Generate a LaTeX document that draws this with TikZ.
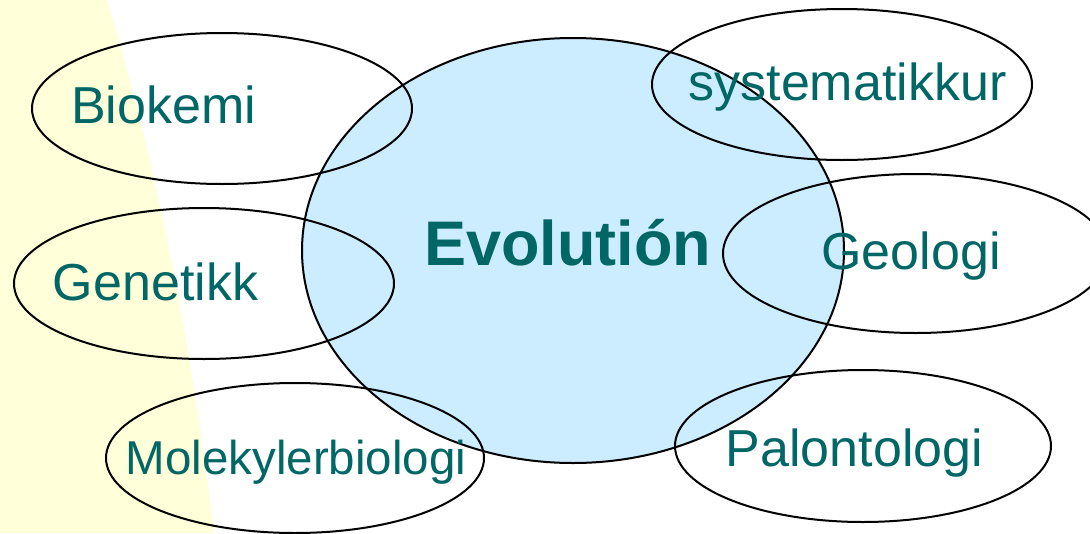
\documentclass[tikz,border=0pt]{standalone}
\usepackage{fontspec}
\setmainfont{Liberation Sans}
\usetikzlibrary{shapes.geometric}
\definecolor{teal}{RGB}{0,102,102}
\definecolor{paleyellow}{RGB}{255,255,217}
\definecolor{evoblue}{RGB}{204,236,255}
\tikzset{
  field/.style={ellipse, draw=black, line width=2pt, inner sep=0pt},
  lbl/.style={anchor=base, inner sep=0pt, text=teal, font=\fontsize{52}{60}\selectfont},
}
\begin{document}
\begin{tikzpicture}[x=1pt, y=-1pt]
\useasboundingbox (0,0) rectangle (1090,533);
\fill[paleyellow] (0,0) -- (107,0) .. controls (161,180) and (192,353) .. (214,533) -- (0,533) -- cycle;
% central circle
\node[field, fill=evoblue, minimum width=542pt, minimum height=425pt] (evo) at (573,250.5) {};
% surrounding fields
\node[field, minimum width=380pt, minimum height=151pt] (bio) at (222,108.5) {};
\node[field, minimum width=380pt, minimum height=151pt] (gen) at (204,283.5) {};
\node[field, minimum width=378pt, minimum height=150pt] (mol) at (295,458) {};
\node[field, minimum width=380pt, minimum height=151pt] (sys) at (842,84.5) {};
\node[field, minimum width=385pt, minimum height=159pt] (geo) at (915.5,253.5) {};
\node[field, minimum width=376pt, minimum height=152pt] (pal) at (863,446) {};
% labels
\node[lbl] (tbio) at (163.5,123) {Biokemi};
\node[lbl] (tgen) at (155.5,300) {Genetikk};
\node[lbl, font=\fontsize{47.5}{56}\selectfont] (tmol) at (296,474) {Molekylerbiologi};
\node[lbl] (tsys) at (847.5,100) {systematikkur};
\node[lbl] (tgeo) at (911,269) {Geologi};
\node[lbl] (tpal) at (854.5,466) {Palontologi};
\node[lbl, font=\fontsize{63}{72}\selectfont\bfseries] (tevo) at (567.5,265) {Evolutión};
\end{tikzpicture}
\end{document}
